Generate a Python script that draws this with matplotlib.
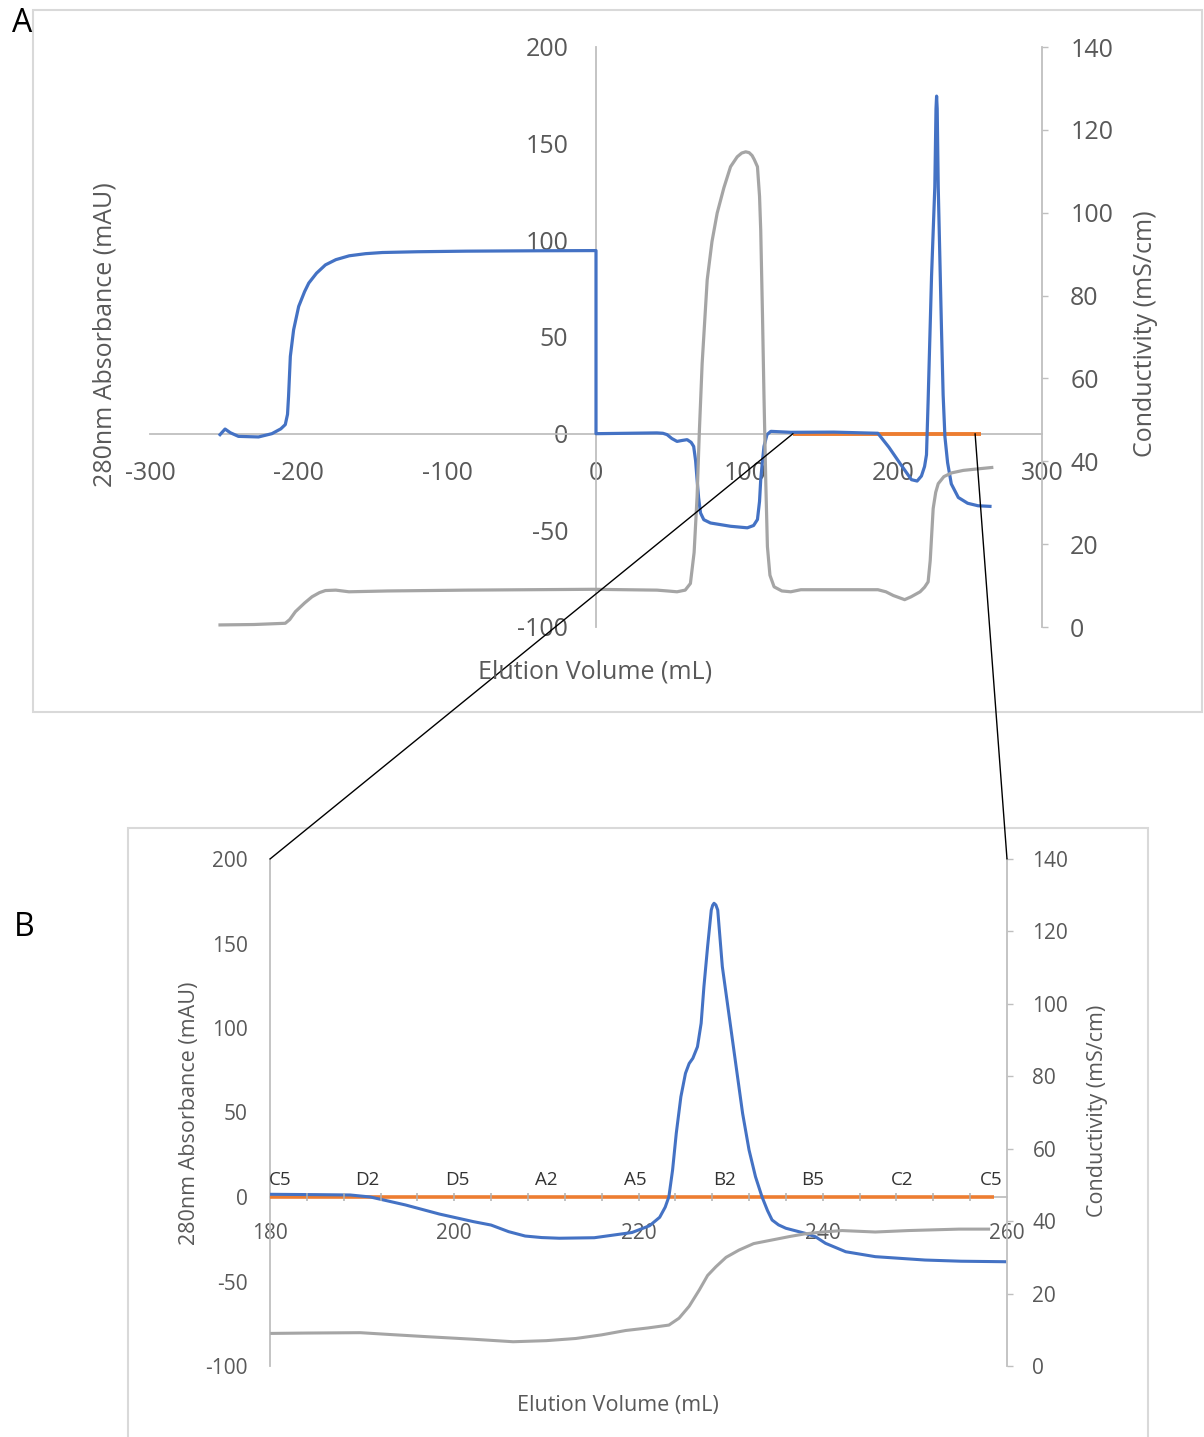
import matplotlib
matplotlib.use('Agg')
import matplotlib.pyplot as plt
from matplotlib.patches import Rectangle, ConnectionPatch

plt.rcParams['font.family'] = ['Open Sans', 'DejaVu Sans']
plt.rcParams['axes.unicode_minus'] = False

# ---------------- Panel A data ----------------
blueA_x = [-252.9, -249.5, -246, -240.5, -227, -218, -212, -209, -207.5, -206.8, -205.6, -203.4, -200,
           -196, -193.2, -188, -182, -175, -166, -155, -143.7, -120, -87.4, -40, 0, 0,
           0.5, 41, 45, 47.8, 51, 54.5, 58, 61.3, 64, 65.7, 67, 68, 69, 70.3, 72.5, 77, 90.5, 101.8,
           106, 108.6, 110.0, 110.8, 112, 113, 115, 117.6, 131, 160, 189.6, 197, 205.4, 212.2,
           216, 218.9, 221, 222.3, 223.4, 225.7, 227.9, 228.7, 229.1, 229.5, 230.2, 232.4, 233.5, 234.7,
           236.5, 239, 243.7, 250, 257, 265]
blueA_y = [-0.5, 2.4, 0.5, -1.4, -1.7, 0, 2.5, 4.7, 10, 19.3, 40, 53.7, 65.8,
           73.5, 77.9, 83, 87.3, 90, 92, 93.1, 93.7, 94.1, 94.4, 94.6, 94.7, 0.0,
           0.0, 0.4, 0.2, -0.5, -2.5, -4, -3.5, -3.1, -4.5, -6.6, -14, -23.8, -33, -41, -44.5, -46.2, -47.9, -48.7,
           -47.5, -44.4, -35, -23.8, -14, -6.6, -0.5, 1.2, 0.7, 0.8, 0.2, -7, -16.4, -23.8,
           -24.5, -21.9, -17, -10.9, 16.8, 81.4, 127.6, 168, 174.6, 168, 127.6, 53.7, 20, -1.6,
           -15, -26, -33, -36, -37.3, -37.6]

grayA_x = [-252.9, -230, -209, -206, -202.2, -196, -191, -186, -182, -175, -166.2, -140, -87.4, -1.8,
           41, 48, 54.5, 60, 63.5, 66, 68, 69.5, 71.4, 74.8, 78, 81.5, 86, 90.5, 95, 98, 100.7, 103,
           105, 106.5, 108.6, 110, 110.8, 112, 113, 114.2, 115.3, 117, 119.8, 125, 131, 137.8, 189.6,
           195, 200, 207.6, 212, 218, 221, 223.4, 224.8, 226.8, 228.5, 230.2, 234, 239.2, 247,
           255, 266.2]
grayA_y = [0.5, 0.6, 0.9, 1.8, 3.7, 5.8, 7.3, 8.3, 8.8, 8.9, 8.5, 8.7, 8.9, 9.1,
           8.9, 8.7, 8.5, 8.9, 10.5, 18, 31.5, 47, 63.6, 83.8, 93, 99.9, 106, 111.1, 113.5, 114.4, 114.7, 114.5,
           113.8, 112.8, 111.1, 104, 95.8, 75, 55.6, 35, 19.4, 12.5, 9.7, 8.7, 8.5, 9.0, 9.0,
           8.5, 7.6, 6.6, 7.3, 8.5, 9.6, 10.9, 16, 28.6, 32.5, 34.6, 36.3, 37.2, 37.8,
           38.1, 38.5]

orangeA_x = [132.5, 259]
orangeA_y = [0, 0]

xticksA = [-300, -200, -100, 0, 100, 200, 300]
yticksA = [-100, -50, 0, 50, 100, 150, 200]
y2ticksA = [0, 20, 40, 60, 80, 100, 120, 140]

# ---------------- Panel B data ----------------
blueB_x = [180.0, 185, 188.7, 190.9, 194.7, 198.4, 202.1, 204.0, 205.9, 207.7, 209.5, 211.4,
           215.2, 219.3, 221.2, 222.3, 222.9, 223.3, 223.7, 224.1, 224.6, 225.1, 225.5, 225.9, 226.4,
           226.8, 227.1, 227.5, 227.9, 228.05, 228.2, 228.4, 228.6, 229.1, 229.8, 230.6, 231.3, 232.0, 232.7,
           233.4, 234.0, 234.5, 235.2, 236.0, 238.1, 239.2, 240.3, 242.5, 245.7, 251.1, 255, 259.8]
blueB_y = [1.6, 1.4, 1.2, 0.0, -4.7, -10.1, -14.6, -16.6, -20.5, -23.1, -24.0, -24.4,
           -24.1, -21.0, -17.0, -12.0, -6.0, 0.2, 16, 37.7, 59.3, 73.2, 79, 82.1, 88.9,
           102.8, 124.4, 148.1, 169.8, 172.6, 173.8, 172.8, 169.8, 136.3, 108.7, 77.1, 49.5, 27.8, 12.0,
           0.2, -8.0, -13.6, -16.5, -18.5, -21.5, -23.5, -27.4, -32.4, -35.3, -37.3, -38.0, -38.3]

grayB_x = [180.2, 184, 189.8, 193, 197.0, 202, 206.4, 210, 213.2, 216, 218.6, 221, 223.3,
           224.4, 225.5, 226.6, 227.5, 228.4, 229.5, 230.9, 232.5, 234.5, 236.5, 238.1, 240,
           242.1, 245.7, 249.3, 254.8, 258.0]
grayB_y = [9.0, 9.1, 9.2, 8.7, 8.1, 7.4, 6.7, 7.0, 7.6, 8.6, 9.8, 10.5, 11.3,
           13.2, 16.5, 21.0, 25.0, 27.4, 30.0, 32.0, 33.8, 34.8, 35.8, 36.5, 37.0,
           37.4, 37.0, 37.4, 37.8, 37.8]

orangeB_x = [180, 258.6]
orangeB_y = [0, 0]

xticksB = [180, 200, 220, 240, 260]
yticksB = [-100, -50, 0, 50, 100, 150, 200]
y2ticksB = [0, 20, 40, 60, 80, 100, 120, 140]

frac_labels = ['C5', 'D2', 'D5', 'A2', 'A5', 'B2', 'B5', 'C2', 'C5']
frac_label_pos = [181.1, 190.6, 200.3, 210.0, 219.7, 229.3, 238.9, 248.6, 258.3]
frac_tick_pos = [184, 188, 192, 196, 200, 204, 208, 212, 216, 220, 224, 228, 232,
                 236, 240, 244, 248, 252, 256]

# ---------------- styling ----------------
BLUE = '#4472C4'
GRAY = '#A5A5A5'
ORANGE = '#ED7D31'
AXC = '#BFBFBF'
TXT = '#595959'
FRAME = '#D9D9D9'

W, H = 1204, 1437
fig = plt.figure(figsize=(W / 100, H / 100), dpi=100)


def px_rect(l, t, r, b):
    return [l / W, 1 - b / H, (r - l) / W, (b - t) / H]


def fx(x):
    return x / W


def fy(y):
    return 1 - y / H


# frames
fig.add_artist(Rectangle((fx(33), fy(712)), (1202 - 33) / W, (712 - 10) / H,
                         transform=fig.transFigure, fill=False, ec=FRAME, lw=1.5))
fig.add_artist(Rectangle((fx(128), -0.05), (1148 - 128) / W, fy(828) + 0.05,
                         transform=fig.transFigure, fill=False, ec=FRAME, lw=1.5))

# ---------------- Panel A ----------------
axA = fig.add_axes(px_rect(150, 47, 1042, 627))
axA.set_xlim(-300, 300)
axA.set_ylim(-100, 200)
axA.patch.set_visible(False)
axA.spines['left'].set_position(('data', 0))
axA.spines['bottom'].set_position(('data', 0))
axA.spines['top'].set_visible(False)
axA.spines['right'].set_visible(False)
for s in ['left', 'bottom']:
    axA.spines[s].set_color(AXC)
    axA.spines[s].set_linewidth(1.3)
axA.set_xticks(xticksA)
axA.set_yticks(yticksA)
axA.tick_params(axis='both', length=0, labelsize=18, labelcolor=TXT)
axA.tick_params(axis='x', pad=20)
axA.tick_params(axis='y', pad=20)

axA.plot(orangeA_x, orangeA_y, color=ORANGE, lw=2.8, zorder=2.8, solid_capstyle='butt')
axA.plot(blueA_x, blueA_y, color=BLUE, lw=2.3, zorder=3, solid_joinstyle='round')

axA2 = axA.twinx()
axA2.set_ylim(0, 140)
for s in ['left', 'top', 'bottom']:
    axA2.spines[s].set_visible(False)
axA2.spines['right'].set_color(AXC)
axA2.spines['right'].set_linewidth(1.3)
axA2.set_yticks(y2ticksA)
axA2.tick_params(axis='y', length=4.3, width=1, color=AXC, labelsize=18,
                 labelcolor=TXT, pad=16)
axA2.plot(grayA_x, grayA_y, color=GRAY, lw=2.3, solid_joinstyle='round')

fig.text(fx(105), fy(335), '280nm Absorbance (mAU)', rotation=90, ha='center',
         va='center', fontsize=18, color=TXT)
fig.text(fx(1145), fy(334), 'Conductivity (mS/cm)', rotation=90, ha='center',
         va='center', fontsize=18, color=TXT)
fig.text(fx(595), fy(672), 'Elution Volume (mL)', ha='center', va='center',
         fontsize=18, color=TXT)
fig.text(fx(22), fy(24), 'A', ha='center', va='center', fontsize=23, color='black')

# ---------------- Panel B ----------------
axB = fig.add_axes(px_rect(270, 859, 1007, 1366))
axB.set_xlim(180, 260)
axB.set_ylim(-100, 200)
axB.patch.set_visible(False)
axB.spines['bottom'].set_position(('data', 0))
axB.spines['top'].set_visible(False)
axB.spines['right'].set_visible(False)
for s in ['left', 'bottom']:
    axB.spines[s].set_color(AXC)
    axB.spines[s].set_linewidth(1.3)
axB.set_xticks(xticksB)
axB.set_yticks(yticksB)
axB.tick_params(axis='both', length=0, labelsize=15, labelcolor=TXT)
axB.tick_params(axis='x', pad=19)
axB.tick_params(axis='y', pad=16)

axB.plot(orangeB_x, orangeB_y, color=ORANGE, lw=2.6, zorder=2.8, solid_capstyle='butt')
axB.plot(blueB_x, blueB_y, color=BLUE, lw=2.2, zorder=3, solid_joinstyle='round')

sec = axB.secondary_xaxis(1 / 3)
sec.set_zorder(5)
sec.set_alignment('top')
sec.spines['top'].set_visible(False)
sec.spines['bottom'].set_visible(False)
sec.set_xticks(frac_label_pos, frac_labels)
sec.set_xticks(frac_tick_pos, minor=True)
sec.tick_params(axis='x', which='major', length=0, labelsize=13.5, labelcolor='#333333', pad=6)
sec.tick_params(axis='x', which='minor', length=5.5, width=1.1, color='#B0B0B0', direction='inout')

axB2 = axB.twinx()
axB2.set_ylim(0, 140)
for s in ['left', 'top', 'bottom']:
    axB2.spines[s].set_visible(False)
axB2.spines['right'].set_color(AXC)
axB2.spines['right'].set_linewidth(1.3)
axB2.set_yticks(y2ticksB)
axB2.tick_params(axis='y', length=4.3, width=1, color=AXC, labelsize=15,
                 labelcolor=TXT, pad=14)
axB2.plot(grayB_x, grayB_y, color=GRAY, lw=2.2, solid_joinstyle='round')

fig.text(fx(190), fy(1113), '280nm Absorbance (mAU)', rotation=90, ha='center',
         va='center', fontsize=15.5, color=TXT)
fig.text(fx(1097), fy(1111), 'Conductivity (mS/cm)', rotation=90, ha='center',
         va='center', fontsize=15.5, color=TXT)
fig.text(fx(618), fy(1406), 'Elution Volume (mL)', ha='center', va='center',
         fontsize=15.5, color=TXT)
fig.text(fx(24), fy(928), 'B', ha='center', va='center', fontsize=23, color='black')

# leader lines linking the zoomed region
con1 = ConnectionPatch(xyA=(132.5, 0), coordsA=axA.transData, xyB=(180, 200),
                       coordsB=axB.transData, color='black', lw=1.0)
con2 = ConnectionPatch(xyA=(255, 0), coordsA=axA.transData, xyB=(260, 200),
                       coordsB=axB.transData, color='black', lw=1.0)
fig.add_artist(con1)
fig.add_artist(con2)

fig.savefig('out.png', dpi=100)
